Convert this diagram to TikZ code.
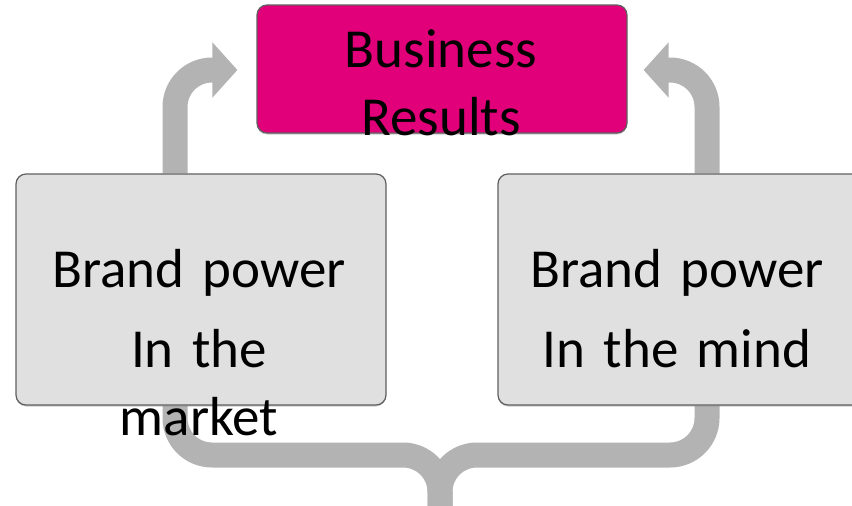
\documentclass[tikz,border=0pt]{standalone}
\usepackage{fontspec}
\setmainfont{Carlito}
\usetikzlibrary{arrows.meta,positioning,calc,shadows,backgrounds}
\usepackage{xcolor}
\definecolor{resultpink}{RGB}{226,0,122}
\definecolor{boxgray}{RGB}{224,224,224}
\definecolor{flowgray}{RGB}{179,179,179}
\definecolor{edgegray}{RGB}{95,95,95}

\begin{document}
\begin{tikzpicture}[x=1pt, y=-1pt,
    panel/.style={draw=edgegray, line width=1.2pt, rounded corners=10pt, inner sep=0pt,
        drop shadow={shadow xshift=0pt, shadow yshift=-1.5pt, opacity=0.4}},
    flow/.style={draw=flowgray, line width=25pt, rounded corners=37pt},
    bigtext/.style={font=\fontsize{55}{68}\selectfont, text width=360pt, align=center, inner sep=0pt}]
                \useasboundingbox (0,0) rectangle (852,506);

                % Result box at the top
                \node[panel, fill=resultpink, minimum width=370pt, minimum height=128pt] (results) at (442,69) {};

                % Brand power boxes
                \node[panel, fill=boxgray, minimum width=370pt, minimum height=231pt] (market) at (201,289.5) {};
                \node[panel, fill=boxgray, minimum width=368pt, minimum height=231pt] (mind) at (682,289.5) {};

                % Texts
                \node[bigtext, anchor=base] (resultstext) at (441,67) {Business\\Results};
                \node[bigtext, anchor=base] (markettext) at (199,287) {Brand power\\[12pt]In the\\market};
                \node[bigtext, anchor=base] (mindtext) at (677,287) {Brand power\\[12pt]In the mind};

                % Connector points
                \coordinate (ltop) at ([xshift=-26pt]market.north);
                \coordinate (lbot) at ([xshift=-26pt]market.south);
                \coordinate (rtop) at ([xshift=25pt]mind.north);
                \coordinate (rbot) at ([xshift=25pt]mind.south);
                \coordinate (ltip) at ([xshift=-19pt, yshift=-1pt]results.west);
                \coordinate (rtip) at ([xshift=16pt, yshift=-1pt]results.east);
                \coordinate (brace) at (440,455);
                \coordinate (foot) at (440,515);

                % Gray arrows and brace behind the boxes
                \begin{scope}[on background layer]
                    \draw[flow, -{Triangle[length=25pt, width=54pt]}] (ltop) -- (ltop |- ltip) -- (ltip);
                    \draw[flow, -{Triangle[length=25pt, width=54pt]}] (rtop) -- (rtop |- rtip) -- (rtip);
                    \draw[flow] (lbot) -- (lbot |- brace) -- (brace) -- (foot);
                    \draw[flow] (rbot) -- (rbot |- brace) -- (brace) -- (foot);
                \end{scope}
\end{tikzpicture}
\end{document}
